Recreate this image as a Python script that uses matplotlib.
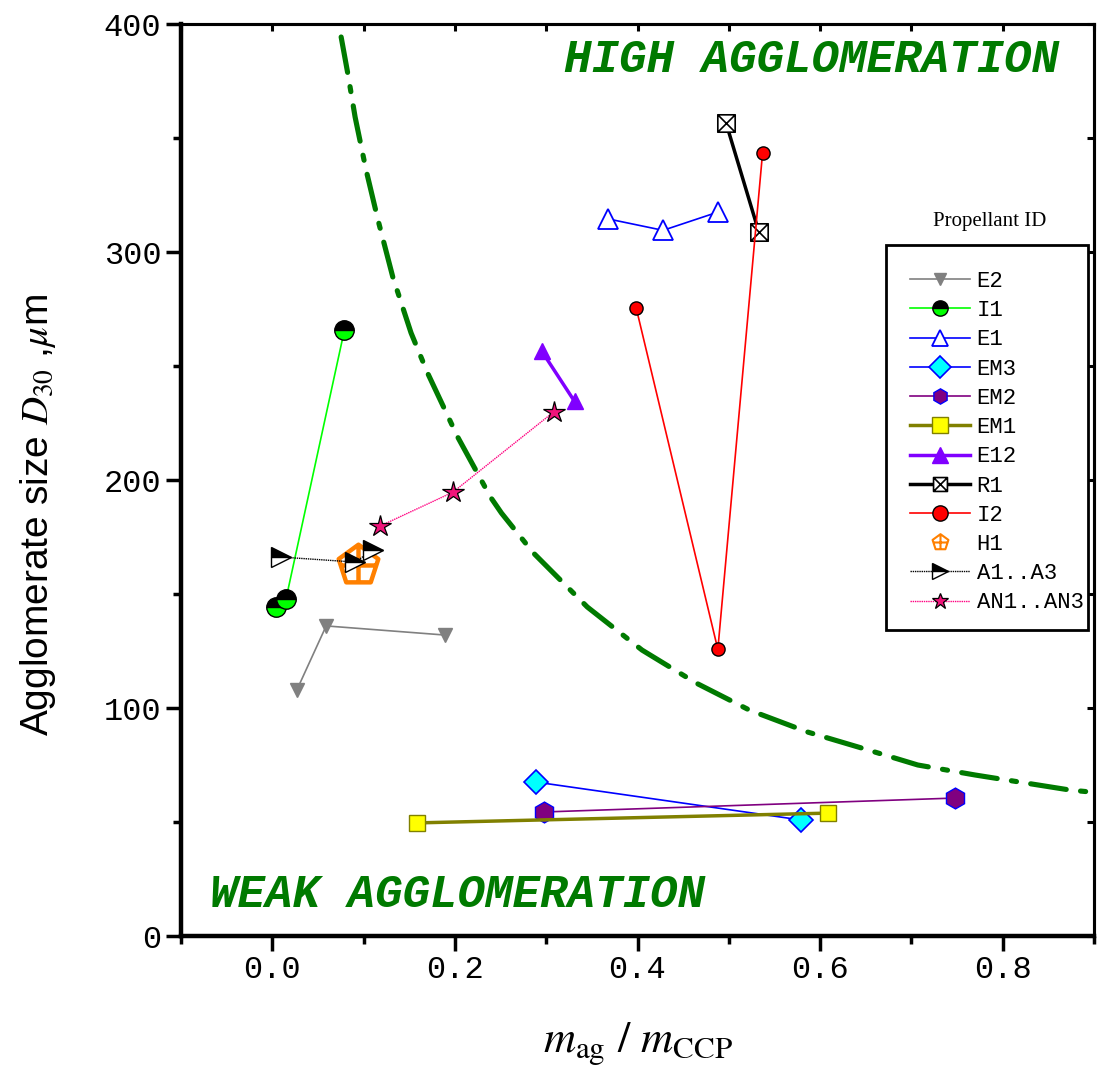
import numpy as np
import matplotlib
matplotlib.use("Agg")
import matplotlib.pyplot as plt
from matplotlib.path import Path
from matplotlib.patches import Rectangle
from matplotlib.ticker import MultipleLocator, FormatStrFormatter

plt.rcParams["mathtext.fontset"] = "stix"

# ---------------- data ----------------
e2_x = [0.027, 0.059, 0.189]
e2_y = [108, 136, 132]

i1_x = [0.004, 0.015, 0.079]
i1_y = [144.3, 147.8, 265.8]

e1_x = [0.368, 0.428, 0.488]
e1_y = [314.5, 309.5, 317.5]

em3_x = [0.289, 0.579]
em3_y = [67.5, 50.9]

em2_x = [0.298, 0.7475]
em2_y = [54.4, 60.5]

em1_x = [0.158, 0.609]
em1_y = [49.6, 53.9]

e12_x = [0.295, 0.331]
e12_y = [256.6, 234.5]

r1_x = [0.497, 0.533]
r1_y = [356.6, 308.6]

i2_x = [0.3986, 0.488, 0.537]
i2_y = [275.4, 125.7, 343.5]

h1_x = [0.094]
h1_y = [162.7]

a_x = [0.0098, 0.0907, 0.110]
a_y = [166.2, 164.0, 169.3]

an_x = [0.118, 0.198, 0.308]
an_y = [179.8, 194.7, 229.8]

# boundary curve
bnd_x = [0.0754, 0.083, 0.0907, 0.1027, 0.1158, 0.132, 0.152, 0.170, 0.203,
         0.239, 0.251, 0.286, 0.345, 0.405, 0.464, 0.523, 0.586, 0.645,
         0.707, 0.770, 0.874, 0.895]
bnd_y = [394.3, 377.6, 359.2, 336, 314, 289, 264.5, 247, 218.9,
         192.5, 185.5, 168, 144.3, 125.4, 111, 99, 89.5, 82.5,
         75, 70.6, 64, 63.2]

labels = ["E2", "I1", "E1", "EM3", "EM2", "EM1", "E12", "R1", "I2", "H1",
          "A1..A3", "AN1..AN3"]

# ---------------- custom markers ----------------
M, L, C = Path.MOVETO, Path.LINETO, Path.CLOSEPOLY
sqx_marker = Path([(-1, -1), (1, -1), (1, 1), (-1, 1), (-1, -1),
                   (-1, -1), (1, 1), (-1, 1), (1, -1)],
                  [M, L, L, L, C, M, L, M, L])
ang = np.deg2rad(90 + 72 * np.arange(5))
pv = [(float(np.cos(a)), float(np.sin(a))) for a in ang]
pent_marker = Path(pv + [pv[0], (0, 1), (0, -0.809), (-0.851, 0), (0.851, 0)],
                   [M, L, L, L, L, C, M, L, M, L])

# ---------------- figure ----------------
fig = plt.figure(figsize=(10.98, 10.70), dpi=100)
ax = fig.add_axes([181 / 1098, 1 - 936 / 1070, 913 / 1098, 912 / 1070])

ax.plot(bnd_x, bnd_y, color="#007a00", lw=3.7, ls=(0, (7, 2.8, 1.0, 2.8)),
        solid_capstyle="round", dash_capstyle="round", zorder=2)

h = []
h += ax.plot(e2_x, e2_y, color="#808080", lw=1.2, marker="v", ms=10,
             mfc="#808080", mec="#808080", label=labels[0])
h += ax.plot(i1_x, i1_y, color="#00ff00", lw=1.2, marker="o", ms=14,
             fillstyle="top", mfc="black", mfcalt="#00ff00", mec="black",
             mew=1.0, label=labels[1])
h += ax.plot(e1_x, e1_y, color="#0000ff", lw=1.2, marker="^", ms=15,
             mfc="white", mec="#0000ff", mew=1.3, label=labels[2])
h += ax.plot(em3_x, em3_y, color="#0000ff", lw=1.2, marker="D", ms=12.5,
             mfc="#00ffff", mec="#0000ff", mew=1.2, label=labels[3])
h += ax.plot(em2_x, em2_y, color="#800080", lw=1.2, marker="h", ms=15,
             mfc="#800080", mec="#0000ff", mew=1.0, label=labels[4])
h += ax.plot(em1_x, em1_y, color="#808000", lw=2.5, marker="s", ms=12,
             mfc="#ffff00", mec="#808000", mew=1.0, label=labels[5])
h += ax.plot(e12_x, e12_y, color="#8000ff", lw=2.5, marker="^", ms=11,
             mfc="#8000ff", mec="#8000ff", label=labels[6])
h += ax.plot(r1_x, r1_y, color="black", lw=2.5, marker=sqx_marker, ms=12.5,
             mfc="white", mec="black", mew=1.2, label=labels[7])
h += ax.plot(i2_x, i2_y, color="#ff0000", lw=1.2, marker="o", ms=9.5,
             mfc="#ff0000", mec="black", mew=1.0, label=labels[8])
h += ax.plot(h1_x, h1_y, ls="none", marker=pent_marker, ms=30,
             mfc="none", mec="#ff8000", mew=3.2, label=labels[9])
h += ax.plot(a_x, a_y, color="black", lw=1.0, ls=(0, (1, 0.6)), marker=">",
             ms=15, fillstyle="top", mfc="black", mfcalt="white", mec="black",
             mew=1.0, label=labels[10])
h += ax.plot(an_x, an_y, color="#ff0080", lw=1.0, ls=(0, (1, 0.6)),
             marker="*", ms=16, mfc="#f0147a", mec="black", mew=0.9,
             label=labels[11])

# ---------------- axes ----------------
ax.set_xlim(-0.1, 0.9)
ax.set_ylim(0, 400)
ax.xaxis.set_major_locator(MultipleLocator(0.2))
ax.xaxis.set_minor_locator(MultipleLocator(0.1))
ax.yaxis.set_major_locator(MultipleLocator(100))
ax.yaxis.set_minor_locator(MultipleLocator(50))
ax.xaxis.set_major_formatter(FormatStrFormatter("%.1f"))
ax.tick_params(which="major", direction="out", length=11, width=2.5, pad=3)
ax.tick_params(which="minor", direction="out", length=6, width=2.5)
for lab in ax.get_xticklabels() + ax.get_yticklabels():
    lab.set_fontfamily("Liberation Mono")
    lab.set_fontsize(23)

for s in ("left", "bottom"):
    ax.spines[s].set_linewidth(3.2)
for s in ("top", "right"):
    ax.spines[s].set_linewidth(2.2)

sx = ax.secondary_xaxis("top")
sx.xaxis.set_major_locator(MultipleLocator(0.1))
sx.tick_params(direction="in", length=5, width=2.2, labeltop=False)
sx.spines["top"].set_linewidth(2.2)
sy = ax.secondary_yaxis("right")
sy.yaxis.set_major_locator(MultipleLocator(50))
sy.tick_params(direction="in", length=5, width=2.2, labelright=False)
sy.spines["right"].set_linewidth(2.2)

ax.set_xlabel(r"$m_{\mathrm{ag}}\ /\ m_{\mathrm{CCP}}$", fontsize=32)
ax.xaxis.set_label_coords(0.5, -0.092)
ax.set_ylabel(r"Agglomerate size $D_{30}$ ,$\mu$m", fontsize=28,
              family="Liberation Sans")
ax.yaxis.set_label_coords(-0.135, 0.4616)

# region texts
txt = dict(family="Liberation Mono", weight="bold", style="italic",
           color="#007a00", fontsize=33)
ax.text(0.320, 384, "HIGH AGGLOMERATION", ha="left", va="center", **txt)
ax.text(-0.068, 18, "WEAK AGGLOMERATION", ha="left", va="center", **txt)

# legend (frame drawn separately)
leg = ax.legend(handles=h, loc="upper left",
                bbox_to_anchor=((910 - 181) / 913, (936 - 271) / 912),
                borderaxespad=0, borderpad=0, frameon=False,
                prop=dict(family="Liberation Mono", size=16),
                handlelength=2.7, handletextpad=0.3, labelspacing=0.37)
leg_ms = [9, 11, 12, 11, 11, 11, 11, 10, 11, 12, 12, 12]
for lh, m in zip(leg.legend_handles, leg_ms):
    lh.set_markersize(m)
    if lh.get_label() == "H1":
        lh.set_markeredgewidth(1.5)
x0, x1 = (886 - 181) / 913, (1088 - 181) / 913
y0, y1 = (936 - 630) / 912, (936 - 245) / 912
ax.add_patch(Rectangle((x0, y0), x1 - x0, y1 - y0, transform=ax.transAxes,
                       fill=True, facecolor="white", edgecolor="black",
                       lw=2.0, zorder=4))
leg.set_zorder(5)
ax.text(0.886, 0.783, "Propellant ID", transform=ax.transAxes, ha="center",
        va="center", family="Liberation Serif", fontsize=15)

fig.savefig("out.png", dpi=100)
